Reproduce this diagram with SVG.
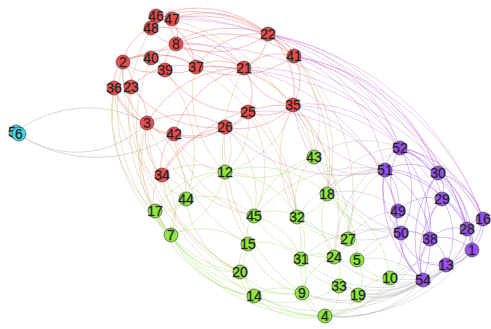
<svg xmlns="http://www.w3.org/2000/svg" width="491" height="329" viewBox="0 0 491 329">
<style>
path{fill:none;stroke-width:0.8}
.rr{stroke:#e8585a;stroke-opacity:.45}
.rg{stroke:#c9a46a;stroke-opacity:.4}
.gg{stroke:#9bdc5a;stroke-opacity:.45}
.pp{stroke:#9a55e8;stroke-opacity:.5}
.gp{stroke:#a8a8a8;stroke-opacity:.4}
.rp{stroke:#c46ac8;stroke-opacity:.4}
.cy{stroke:#bdbdbd;stroke-opacity:.7}
circle{stroke:#4a4a4a;stroke-width:.7}
.r circle{fill:#f24a4a}
.g circle{fill:#8ee63f}
.p circle{fill:#9a4ff2}
.c circle{fill:#3fdbe4}
text{font-family:"Liberation Sans",Arial,sans-serif;font-size:14px;fill:#151515;text-anchor:middle;stroke:#444;stroke-width:.3}
</style>
<g id="connectors">
<path class="cy" d="M16 132 A120 120 0 0 1 147 123"/>
<path class="cy" d="M16 132 A100 100 0 0 0 147 123"/>
<path class="cy" d="M20 135 A140 140 0 0 0 174 134"/>
<path class="rr" d="M156 16 A30 30 0 0 1 172 19"/>
<path class="rr" d="M156 16 A110 110 0 0 1 268 34"/>
<path class="rr" d="M172 19 A100 100 0 0 1 268 34"/>
<path class="rr" d="M156 16 A140 140 0 0 1 294 56"/>
<path class="rr" d="M172 19 A130 130 0 0 1 294 56"/>
<path class="rr" d="M151 28 A30 30 0 0 0 176 44"/>
<path class="rr" d="M151 28 A45 45 0 0 0 123 62"/>
<path class="rr" d="M156 16 A35 35 0 0 1 176 44"/>
<path class="rr" d="M172 19 A25 25 0 0 1 176 44"/>
<path class="rr" d="M176 44 A30 30 0 0 1 196 67"/>
<path class="rr" d="M176 44 A27 27 0 0 0 165 70"/>
<path class="rr" d="M176 44 A75 75 0 0 1 244 68"/>
<path class="rr" d="M176 44 A92 92 0 0 0 268 34"/>
<path class="rr" d="M123 62 A28 28 0 0 1 151 58"/>
<path class="rr" d="M123 62 A43 43 0 0 0 165 70"/>
<path class="rr" d="M123 62 A28 28 0 0 0 114 88"/>
<path class="rr" d="M123 62 A26 26 0 0 1 131 87"/>
<path class="rr" d="M123 62 A67 67 0 0 0 147 123"/>
<path class="rr" d="M151 58 A18 18 0 0 1 165 70"/>
<path class="rr" d="M151 58 A46 46 0 0 1 196 67"/>
<path class="rr" d="M165 70 A31 31 0 0 0 196 67"/>
<path class="rr" d="M196 67 A48 48 0 0 1 244 68"/>
<path class="rr" d="M196 67 A78 78 0 0 1 268 34"/>
<path class="rr" d="M196 67 A99 99 0 0 0 294 56"/>
<path class="rr" d="M244 68 A41 41 0 0 0 268 34"/>
<path class="rr" d="M244 68 A52 52 0 0 1 294 56"/>
<path class="rr" d="M244 68 A44 44 0 0 1 248 112"/>
<path class="rr" d="M244 68 A60 60 0 0 0 293 105"/>
<path class="rr" d="M268 34 A34 34 0 0 1 294 56"/>
<path class="rr" d="M248 112 A46 46 0 0 0 293 105"/>
<path class="rr" d="M248 112 A27 27 0 0 1 225 127"/>
<path class="rr" d="M225 127 A71 71 0 0 0 293 105"/>
<path class="rr" d="M225 127 A51 51 0 0 1 174 134"/>
<path class="rr" d="M147 123 A29 29 0 0 0 174 134"/>
<path class="rr" d="M147 123 A55 55 0 0 0 162 175"/>
<path class="rr" d="M114 88 A17 17 0 0 1 131 87"/>
<path class="rr" d="M131 87 A39 39 0 0 1 147 123"/>
<path class="rr" d="M131 87 A69 69 0 0 1 196 67"/>
<path class="rr" d="M147 123 A78 78 0 0 1 225 127"/>
<path class="rr" d="M174 134 A78 78 0 0 0 248 112"/>
<path class="rr" d="M196 67 A106 106 0 0 1 293 105"/>
<path class="rr" d="M176 44 A120 120 0 0 1 294 56"/>
<path class="rr" d="M151 28 A101 101 0 0 1 244 68"/>
<path class="rr" d="M123 62 A121 121 0 0 1 244 68"/>
<path class="rr" d="M114 88 A76 76 0 0 0 174 134"/>
<path class="rr" d="M147 123 A109 109 0 0 1 244 68"/>
<path class="rr" d="M165 70 A90 90 0 0 0 248 112"/>
<path class="rr" d="M151 58 A121 121 0 0 1 268 34"/>
<path class="rr" d="M162 175 A148 148 0 0 1 293 105"/>
<path class="rr" d="M131 87 A103 103 0 0 0 225 127"/>
<path class="rr" d="M294 56 A49 49 0 0 1 293 105"/>
<path class="rr" d="M268 34 A76 76 0 0 1 293 105"/>
<path class="rr" d="M156 16 A64 64 0 0 1 196 67"/>
<path class="rr" d="M123 62 A73 73 0 0 1 196 67"/>
<path class="rr" d="M174 134 A97 97 0 0 1 244 68"/>
<path class="rr" d="M162 175 A43 43 0 0 1 174 134"/>
<path class="rr" d="M162 175 A80 80 0 0 1 225 127"/>
<path class="rr" d="M114 88 A48 48 0 0 0 147 123"/>
<path class="rg" d="M123 62 A180 180 0 0 0 171 235"/>
<path class="rg" d="M114 88 A130 130 0 0 0 155 211"/>
<path class="rg" d="M114 88 A158 158 0 0 0 171 235"/>
<path class="rg" d="M147 123 A115 115 0 0 0 171 235"/>
<path class="rg" d="M147 123 A89 89 0 0 0 155 211"/>
<path class="rg" d="M147 123 A85 85 0 0 1 186 199"/>
<path class="rg" d="M162 175 A37 37 0 0 0 155 211"/>
<path class="rg" d="M162 175 A34 34 0 0 1 186 199"/>
<path class="rg" d="M162 175 A60 60 0 0 1 171 235"/>
<path class="rg" d="M162 175 A63 63 0 0 1 225 172"/>
<path class="rg" d="M174 134 A65 65 0 0 0 225 172"/>
<path class="rg" d="M225 127 A45 45 0 0 1 225 172"/>
<path class="rg" d="M225 127 A92 92 0 0 1 254 216"/>
<path class="rg" d="M248 112 A64 64 0 0 1 225 172"/>
<path class="rg" d="M293 105 A55 55 0 0 1 314 157"/>
<path class="rg" d="M293 105 A96 96 0 0 1 327 194"/>
<path class="rg" d="M293 105 A112 112 0 0 0 297 217"/>
<path class="rg" d="M244 68 A112 112 0 0 1 314 157"/>
<path class="rg" d="M294 56 A104 104 0 0 1 314 157"/>
<path class="rg" d="M294 56 A142 142 0 0 1 327 194"/>
<path class="rg" d="M225 127 A113 113 0 0 1 297 217"/>
<path class="rg" d="M268 34 A167 167 0 0 1 327 194"/>
<path class="rg" d="M196 67 A108 108 0 0 0 225 172"/>
<path class="rg" d="M174 134 A136 136 0 0 0 248 244"/>
<path class="rg" d="M147 123 A176 176 0 0 0 240 272"/>
<path class="rg" d="M131 87 A207 207 0 0 0 240 272"/>
<path class="rg" d="M123 62 A268 268 0 0 0 254 296"/>
<path class="rg" d="M176 44 A210 210 0 0 1 297 217"/>
<path class="rg" d="M165 70 A131 131 0 0 1 186 199"/>
<path class="rg" d="M151 58 A180 180 0 0 0 171 235"/>
<path class="rg" d="M293 105 A96 96 0 0 1 225 172"/>
<path class="rg" d="M248 112 A104 104 0 0 1 254 216"/>
<path class="rg" d="M174 134 A116 116 0 0 0 254 216"/>
<path class="rg" d="M172 19 A208 208 0 0 1 314 157"/>
<path class="rg" d="M147 123 A142 142 0 0 0 254 216"/>
<path class="rg" d="M162 175 A122 122 0 0 0 240 272"/>
<path class="rg" d="M196 67 A214 214 0 0 1 301 259"/>
<path class="rg" d="M244 68 A176 176 0 0 0 248 244"/>
<path class="rg" d="M294 56 A192 192 0 0 1 348 239"/>
<path class="rg" d="M293 105 A160 160 0 0 1 334 257"/>
<path class="rg" d="M225 127 A184 184 0 0 0 302 293"/>
<path class="rg" d="M114 88 A130 130 0 0 0 186 199"/>
<path class="rg" d="M151 28 A183 183 0 0 0 155 211"/>
<path class="gg" d="M314 157 A39 39 0 0 1 327 194"/>
<path class="gg" d="M314 157 A63 63 0 0 0 297 217"/>
<path class="gg" d="M314 157 A90 90 0 0 1 225 172"/>
<path class="gg" d="M314 157 A86 86 0 0 0 254 216"/>
<path class="gg" d="M225 172 A47 47 0 0 0 186 199"/>
<path class="gg" d="M225 172 A52 52 0 0 1 254 216"/>
<path class="gg" d="M225 172 A80 80 0 0 0 155 211"/>
<path class="gg" d="M225 172 A85 85 0 0 1 171 235"/>
<path class="gg" d="M186 199 A33 33 0 0 1 155 211"/>
<path class="gg" d="M186 199 A38 38 0 0 0 171 235"/>
<path class="gg" d="M155 211 A29 29 0 0 0 171 235"/>
<path class="gg" d="M171 235 A77 77 0 0 0 240 272"/>
<path class="gg" d="M171 235 A106 106 0 0 0 254 296"/>
<path class="gg" d="M171 235 A171 171 0 0 0 325 316"/>
<path class="gg" d="M171 235 A78 78 0 0 1 248 244"/>
<path class="gg" d="M171 235 A143 143 0 0 0 302 293"/>
<path class="gg" d="M155 211 A109 109 0 0 0 240 272"/>
<path class="gg" d="M186 199 A70 70 0 0 1 254 216"/>
<path class="gg" d="M254 216 A43 43 0 0 1 297 217"/>
<path class="gg" d="M254 216 A29 29 0 0 0 248 244"/>
<path class="gg" d="M254 216 A66 66 0 0 1 301 259"/>
<path class="gg" d="M297 217 A38 38 0 0 0 327 194"/>
<path class="gg" d="M297 217 A42 42 0 0 1 301 259"/>
<path class="gg" d="M297 217 A54 54 0 0 1 334 257"/>
<path class="gg" d="M297 217 A58 58 0 0 0 348 239"/>
<path class="gg" d="M327 194 A50 50 0 0 1 348 239"/>
<path class="gg" d="M327 194 A63 63 0 0 0 334 257"/>
<path class="gg" d="M327 194 A72 72 0 0 1 357 260"/>
<path class="gg" d="M327 194 A103 103 0 0 1 390 278"/>
<path class="gg" d="M348 239 A23 23 0 0 1 334 257"/>
<path class="gg" d="M348 239 A23 23 0 0 1 357 260"/>
<path class="gg" d="M334 257 A23 23 0 0 0 357 260"/>
<path class="gg" d="M334 257 A33 33 0 0 0 301 259"/>
<path class="gg" d="M334 257 A29 29 0 0 1 339 286"/>
<path class="gg" d="M301 259 A34 34 0 0 1 302 293"/>
<path class="gg" d="M301 259 A48 48 0 0 0 339 286"/>
<path class="gg" d="M339 286 A21 21 0 0 1 358 295"/>
<path class="gg" d="M339 286 A32 32 0 0 1 325 316"/>
<path class="gg" d="M302 293 A32 32 0 0 0 325 316"/>
<path class="gg" d="M358 295 A38 38 0 0 1 325 316"/>
<path class="gg" d="M254 296 A73 73 0 0 0 325 316"/>
<path class="gg" d="M254 296 A48 48 0 0 1 302 293"/>
<path class="gg" d="M240 272 A27 27 0 0 0 254 296"/>
<path class="gg" d="M240 272 A29 29 0 0 1 248 244"/>
<path class="gg" d="M248 244 A55 55 0 0 1 301 259"/>
<path class="gg" d="M248 244 A74 74 0 0 0 302 293"/>
<path class="gg" d="M240 272 A66 66 0 0 0 302 293"/>
<path class="gg" d="M390 278 A38 38 0 0 1 357 260"/>
<path class="gg" d="M390 278 A36 36 0 0 0 358 295"/>
<path class="gg" d="M390 278 A75 75 0 0 1 325 316"/>
<path class="gg" d="M357 260 A35 35 0 0 1 358 295"/>
<path class="gg" d="M334 257 A48 48 0 0 0 302 293"/>
<path class="gg" d="M225 172 A84 84 0 0 1 297 217"/>
<path class="gg" d="M254 216 A87 87 0 0 0 334 257"/>
<path class="gg" d="M248 244 A52 52 0 0 0 254 296"/>
<path class="gg" d="M240 272 A95 95 0 0 0 325 316"/>
<path class="gg" d="M186 199 A91 91 0 0 0 240 272"/>
<path class="gg" d="M225 172 A104 104 0 0 1 327 194"/>
<path class="gg" d="M314 157 A88 88 0 0 1 348 239"/>
<path class="gg" d="M301 259 A62 62 0 0 0 325 316"/>
<path class="gg" d="M254 296 A87 87 0 0 0 339 286"/>
<path class="gg" d="M155 211 A125 125 0 0 0 254 296"/>
<path class="gg" d="M155 211 A200 200 0 0 0 325 316"/>
<path class="pp" d="M400 148 A27 27 0 0 0 385 170"/>
<path class="pp" d="M400 148 A46 46 0 0 1 438 173"/>
<path class="pp" d="M400 148 A65 65 0 0 1 442 199"/>
<path class="pp" d="M400 148 A63 63 0 0 0 398 211"/>
<path class="pp" d="M400 148 A85 85 0 0 1 401 233"/>
<path class="pp" d="M400 148 A135 135 0 0 1 423 280"/>
<path class="pp" d="M400 148 A110 110 0 0 1 483 219"/>
<path class="pp" d="M400 148 A108 108 0 0 1 467 229"/>
<path class="pp" d="M385 170 A53 53 0 0 1 438 173"/>
<path class="pp" d="M385 170 A43 43 0 0 1 398 211"/>
<path class="pp" d="M385 170 A66 66 0 0 0 401 233"/>
<path class="pp" d="M385 170 A118 118 0 0 0 423 280"/>
<path class="pp" d="M385 170 A64 64 0 0 1 442 199"/>
<path class="pp" d="M385 170 A84 84 0 0 1 430 239"/>
<path class="pp" d="M438 173 A26 26 0 0 1 442 199"/>
<path class="pp" d="M438 173 A63 63 0 0 1 467 229"/>
<path class="pp" d="M438 173 A64 64 0 0 1 483 219"/>
<path class="pp" d="M438 173 A87 87 0 0 1 472 250"/>
<path class="pp" d="M442 199 A39 39 0 0 1 467 229"/>
<path class="pp" d="M442 199 A42 42 0 0 0 430 239"/>
<path class="pp" d="M442 199 A84 84 0 0 0 423 280"/>
<path class="pp" d="M442 199 A66 66 0 0 1 446 265"/>
<path class="pp" d="M442 199 A45 45 0 0 0 398 211"/>
<path class="pp" d="M398 211 A22 22 0 0 0 401 233"/>
<path class="pp" d="M398 211 A42 42 0 0 1 430 239"/>
<path class="pp" d="M401 233 A30 30 0 0 1 430 239"/>
<path class="pp" d="M401 233 A51 51 0 0 0 423 280"/>
<path class="pp" d="M430 239 A30 30 0 0 1 446 265"/>
<path class="pp" d="M430 239 A42 42 0 0 0 423 280"/>
<path class="pp" d="M430 239 A38 38 0 0 1 467 229"/>
<path class="pp" d="M430 239 A43 43 0 0 1 472 250"/>
<path class="pp" d="M467 229 A19 19 0 0 1 483 219"/>
<path class="pp" d="M467 229 A22 22 0 0 1 472 250"/>
<path class="pp" d="M467 229 A42 42 0 0 1 446 265"/>
<path class="pp" d="M472 250 A30 30 0 0 1 446 265"/>
<path class="pp" d="M446 265 A27 27 0 0 1 423 280"/>
<path class="pp" d="M483 219 A34 34 0 0 1 472 250"/>
<path class="pp" d="M398 211 A75 75 0 0 0 423 280"/>
<path class="pp" d="M438 173 A67 67 0 0 0 430 239"/>
<path class="pp" d="M483 219 A60 60 0 0 1 446 265"/>
<path class="pp" d="M385 170 A109 109 0 0 1 467 229"/>
<path class="pp" d="M401 233 A40 40 0 0 0 446 265"/>
<path class="pp" d="M442 199 A61 61 0 0 1 472 250"/>
<path class="pp" d="M438 173 A108 108 0 0 0 423 280"/>
<path class="pp" d="M400 148 A130 130 0 0 1 472 250"/>
<path class="gp" d="M327 194 A62 62 0 0 1 385 170"/>
<path class="gp" d="M327 194 A74 74 0 0 1 398 211"/>
<path class="gp" d="M327 194 A84 84 0 0 0 401 233"/>
<path class="gp" d="M314 157 A87 87 0 0 1 400 148"/>
<path class="gp" d="M314 157 A72 72 0 0 0 385 170"/>
<path class="gp" d="M390 278 A33 33 0 0 1 423 280"/>
<path class="gp" d="M390 278 A46 46 0 0 0 401 233"/>
<path class="gp" d="M390 278 A55 55 0 0 0 430 239"/>
<path class="gp" d="M390 278 A58 58 0 0 1 446 265"/>
<path class="gp" d="M325 316 A106 106 0 0 0 423 280"/>
<path class="gp" d="M325 316 A134 134 0 0 0 446 265"/>
<path class="gp" d="M325 316 A166 166 0 0 0 472 250"/>
<path class="gp" d="M358 295 A68 68 0 0 0 423 280"/>
<path class="gp" d="M358 295 A97 97 0 0 0 446 265"/>
<path class="gp" d="M357 260 A52 52 0 0 1 401 233"/>
<path class="gp" d="M357 260 A65 65 0 0 0 398 211"/>
<path class="gp" d="M348 239 A63 63 0 0 1 398 211"/>
<path class="gp" d="M348 239 A80 80 0 0 1 385 170"/>
<path class="gp" d="M334 257 A93 93 0 0 0 423 280"/>
<path class="gp" d="M339 286 A84 84 0 0 0 423 280"/>
<path class="gp" d="M302 293 A123 123 0 0 0 423 280"/>
<path class="gp" d="M297 217 A104 104 0 0 1 385 170"/>
<path class="gp" d="M297 217 A106 106 0 0 0 401 233"/>
<path class="gp" d="M357 260 A69 69 0 0 1 423 280"/>
<path class="gp" d="M348 239 A82 82 0 0 1 430 239"/>
<path class="gp" d="M390 278 A86 86 0 0 0 472 250"/>
<path class="gp" d="M325 316 A136 136 0 0 0 430 239"/>
<path class="gp" d="M301 259 A124 124 0 0 0 423 280"/>
<path class="gp" d="M254 296 A170 170 0 0 0 423 280"/>
<path class="gp" d="M302 293 A147 147 0 0 0 446 265"/>
<path class="gp" d="M339 286 A138 138 0 0 0 472 250"/>
<path class="gp" d="M358 295 A146 146 0 0 0 483 219"/>
<path class="gp" d="M334 257 A128 128 0 0 1 400 148"/>
<path class="gp" d="M327 194 A80 80 0 0 1 400 148"/>
<path class="gp" d="M254 216 A138 138 0 0 1 385 170"/>
<path class="gp" d="M301 259 A103 103 0 0 1 401 233"/>
<path class="rp" d="M294 56 A140 140 0 0 1 400 148"/>
<path class="rp" d="M294 56 A146 146 0 0 1 385 170"/>
<path class="rp" d="M294 56 A185 185 0 0 1 438 173"/>
<path class="rp" d="M294 56 A250 250 0 0 1 483 219"/>
<path class="rp" d="M294 56 A245 245 0 0 1 467 229"/>
<path class="rp" d="M268 34 A175 175 0 0 1 400 148"/>
<path class="rp" d="M268 34 A220 220 0 0 1 438 173"/>
<path class="rp" d="M293 105 A114 114 0 0 1 400 148"/>
<path class="rp" d="M293 105 A115 115 0 0 0 385 170"/>
<path class="rp" d="M293 105 A143 143 0 0 1 398 211"/>
<path class="rp" d="M293 105 A176 176 0 0 1 442 199"/>
<path class="rp" d="M293 105 A165 165 0 0 0 401 233"/>
<path class="rp" d="M244 68 A174 174 0 0 1 400 148"/>
<path class="rp" d="M248 112 A150 150 0 0 1 385 170"/>
<path class="rp" d="M225 127 A167 167 0 0 0 385 170"/>
<path class="rp" d="M196 67 A325 325 0 0 1 483 219"/>
<path class="rp" d="M268 34 A280 280 0 0 1 467 229"/>
<path class="rp" d="M156 16 A277 277 0 0 1 400 148"/>
<path class="rp" d="M172 19 A307 307 0 0 1 438 173"/>
<path class="rp" d="M176 44 A353 353 0 0 1 483 219"/>
<path class="rp" d="M268 34 A284 284 0 0 1 483 219"/>
<path class="rp" d="M244 68 A210 210 0 0 1 398 211"/>
</g>
<g id="n53" class="c"><circle cx="16" cy="132" r="7"/><text x="16" y="137">53</text></g>
<g id="n6" class="c"><circle cx="19" cy="134" r="7"/><text x="19" y="139">6</text></g>
<g id="n46" class="r"><circle cx="156" cy="16" r="7"/><text x="156" y="21">46</text></g>
<g id="n47" class="r"><circle cx="172" cy="19" r="7"/><text x="172" y="24">47</text></g>
<g id="n48" class="r"><circle cx="151" cy="28" r="7"/><text x="151" y="33">48</text></g>
<g id="n8" class="r"><circle cx="176" cy="44" r="7"/><text x="176" y="49">8</text></g>
<g id="n2" class="r"><circle cx="123" cy="62" r="7"/><text x="123" y="67">2</text></g>
<g id="n40" class="r"><circle cx="151" cy="58" r="7"/><text x="151" y="63">40</text></g>
<g id="n39" class="r"><circle cx="165" cy="70" r="7"/><text x="165" y="75">39</text></g>
<g id="n37" class="r"><circle cx="196" cy="67" r="7"/><text x="196" y="72">37</text></g>
<g id="n36" class="r"><circle cx="114" cy="88" r="7"/><text x="114" y="93">36</text></g>
<g id="n23" class="r"><circle cx="131" cy="87" r="7"/><text x="131" y="92">23</text></g>
<g id="n3" class="r"><circle cx="147" cy="123" r="7"/><text x="147" y="128">3</text></g>
<g id="n42" class="r"><circle cx="174" cy="134" r="7"/><text x="174" y="139">42</text></g>
<g id="n26" class="r"><circle cx="225" cy="127" r="7"/><text x="225" y="132">26</text></g>
<g id="n21" class="r"><circle cx="244" cy="68" r="7"/><text x="244" y="73">21</text></g>
<g id="n25" class="r"><circle cx="248" cy="112" r="7"/><text x="248" y="117">25</text></g>
<g id="n22" class="r"><circle cx="268" cy="34" r="7"/><text x="268" y="39">22</text></g>
<g id="n41" class="r"><circle cx="294" cy="56" r="7"/><text x="294" y="61">41</text></g>
<g id="n35" class="r"><circle cx="293" cy="105" r="7"/><text x="293" y="110">35</text></g>
<g id="n34" class="r"><circle cx="162" cy="175" r="7"/><text x="162" y="180">34</text></g>
<g id="n43" class="g"><circle cx="314" cy="157" r="7"/><text x="314" y="162">43</text></g>
<g id="n12" class="g"><circle cx="225" cy="172" r="7"/><text x="225" y="177">12</text></g>
<g id="n44" class="g"><circle cx="186" cy="199" r="7"/><text x="186" y="204">44</text></g>
<g id="n17" class="g"><circle cx="155" cy="211" r="7"/><text x="155" y="216">17</text></g>
<g id="n7" class="g"><circle cx="171" cy="235" r="7"/><text x="171" y="240">7</text></g>
<g id="n20" class="g"><circle cx="240" cy="272" r="7"/><text x="240" y="277">20</text></g>
<g id="n18" class="g"><circle cx="327" cy="194" r="7"/><text x="327" y="199">18</text></g>
<g id="n45" class="g"><circle cx="254" cy="216" r="7"/><text x="254" y="221">45</text></g>
<g id="n32" class="g"><circle cx="297" cy="217" r="7"/><text x="297" y="222">32</text></g>
<g id="n15" class="g"><circle cx="248" cy="244" r="7"/><text x="248" y="249">15</text></g>
<g id="n27" class="g"><circle cx="348" cy="239" r="7"/><text x="348" y="244">27</text></g>
<g id="n31" class="g"><circle cx="301" cy="259" r="7"/><text x="301" y="264">31</text></g>
<g id="n24" class="g"><circle cx="334" cy="257" r="7"/><text x="334" y="262">24</text></g>
<g id="n5" class="g"><circle cx="357" cy="260" r="7"/><text x="357" y="265">5</text></g>
<g id="n10" class="g"><circle cx="390" cy="278" r="7"/><text x="390" y="283">10</text></g>
<g id="n33" class="g"><circle cx="339" cy="286" r="7"/><text x="339" y="291">33</text></g>
<g id="n9" class="g"><circle cx="302" cy="293" r="7"/><text x="302" y="298">9</text></g>
<g id="n19" class="g"><circle cx="358" cy="295" r="7"/><text x="358" y="300">19</text></g>
<g id="n14" class="g"><circle cx="254" cy="296" r="7"/><text x="254" y="301">14</text></g>
<g id="n4" class="g"><circle cx="325" cy="316" r="7"/><text x="325" y="321">4</text></g>
<g id="n52" class="p"><circle cx="400" cy="148" r="7"/><text x="400" y="153">52</text></g>
<g id="n51" class="p"><circle cx="385" cy="170" r="7"/><text x="385" y="175">51</text></g>
<g id="n30" class="p"><circle cx="438" cy="173" r="7"/><text x="438" y="178">30</text></g>
<g id="n29" class="p"><circle cx="442" cy="199" r="7"/><text x="442" y="204">29</text></g>
<g id="n49" class="p"><circle cx="398" cy="211" r="7"/><text x="398" y="216">49</text></g>
<g id="n16" class="p"><circle cx="483" cy="219" r="7"/><text x="483" y="224">16</text></g>
<g id="n28" class="p"><circle cx="467" cy="229" r="7"/><text x="467" y="234">28</text></g>
<g id="n50" class="p"><circle cx="401" cy="233" r="7"/><text x="401" y="238">50</text></g>
<g id="n38" class="p"><circle cx="430" cy="239" r="7"/><text x="430" y="244">38</text></g>
<g id="n1" class="p"><circle cx="472" cy="250" r="7"/><text x="472" y="255">1</text></g>
<g id="n13" class="p"><circle cx="446" cy="265" r="7"/><text x="446" y="270">13</text></g>
<g id="n54" class="p"><circle cx="423" cy="280" r="7"/><text x="423" y="285">54</text></g>
</svg>
